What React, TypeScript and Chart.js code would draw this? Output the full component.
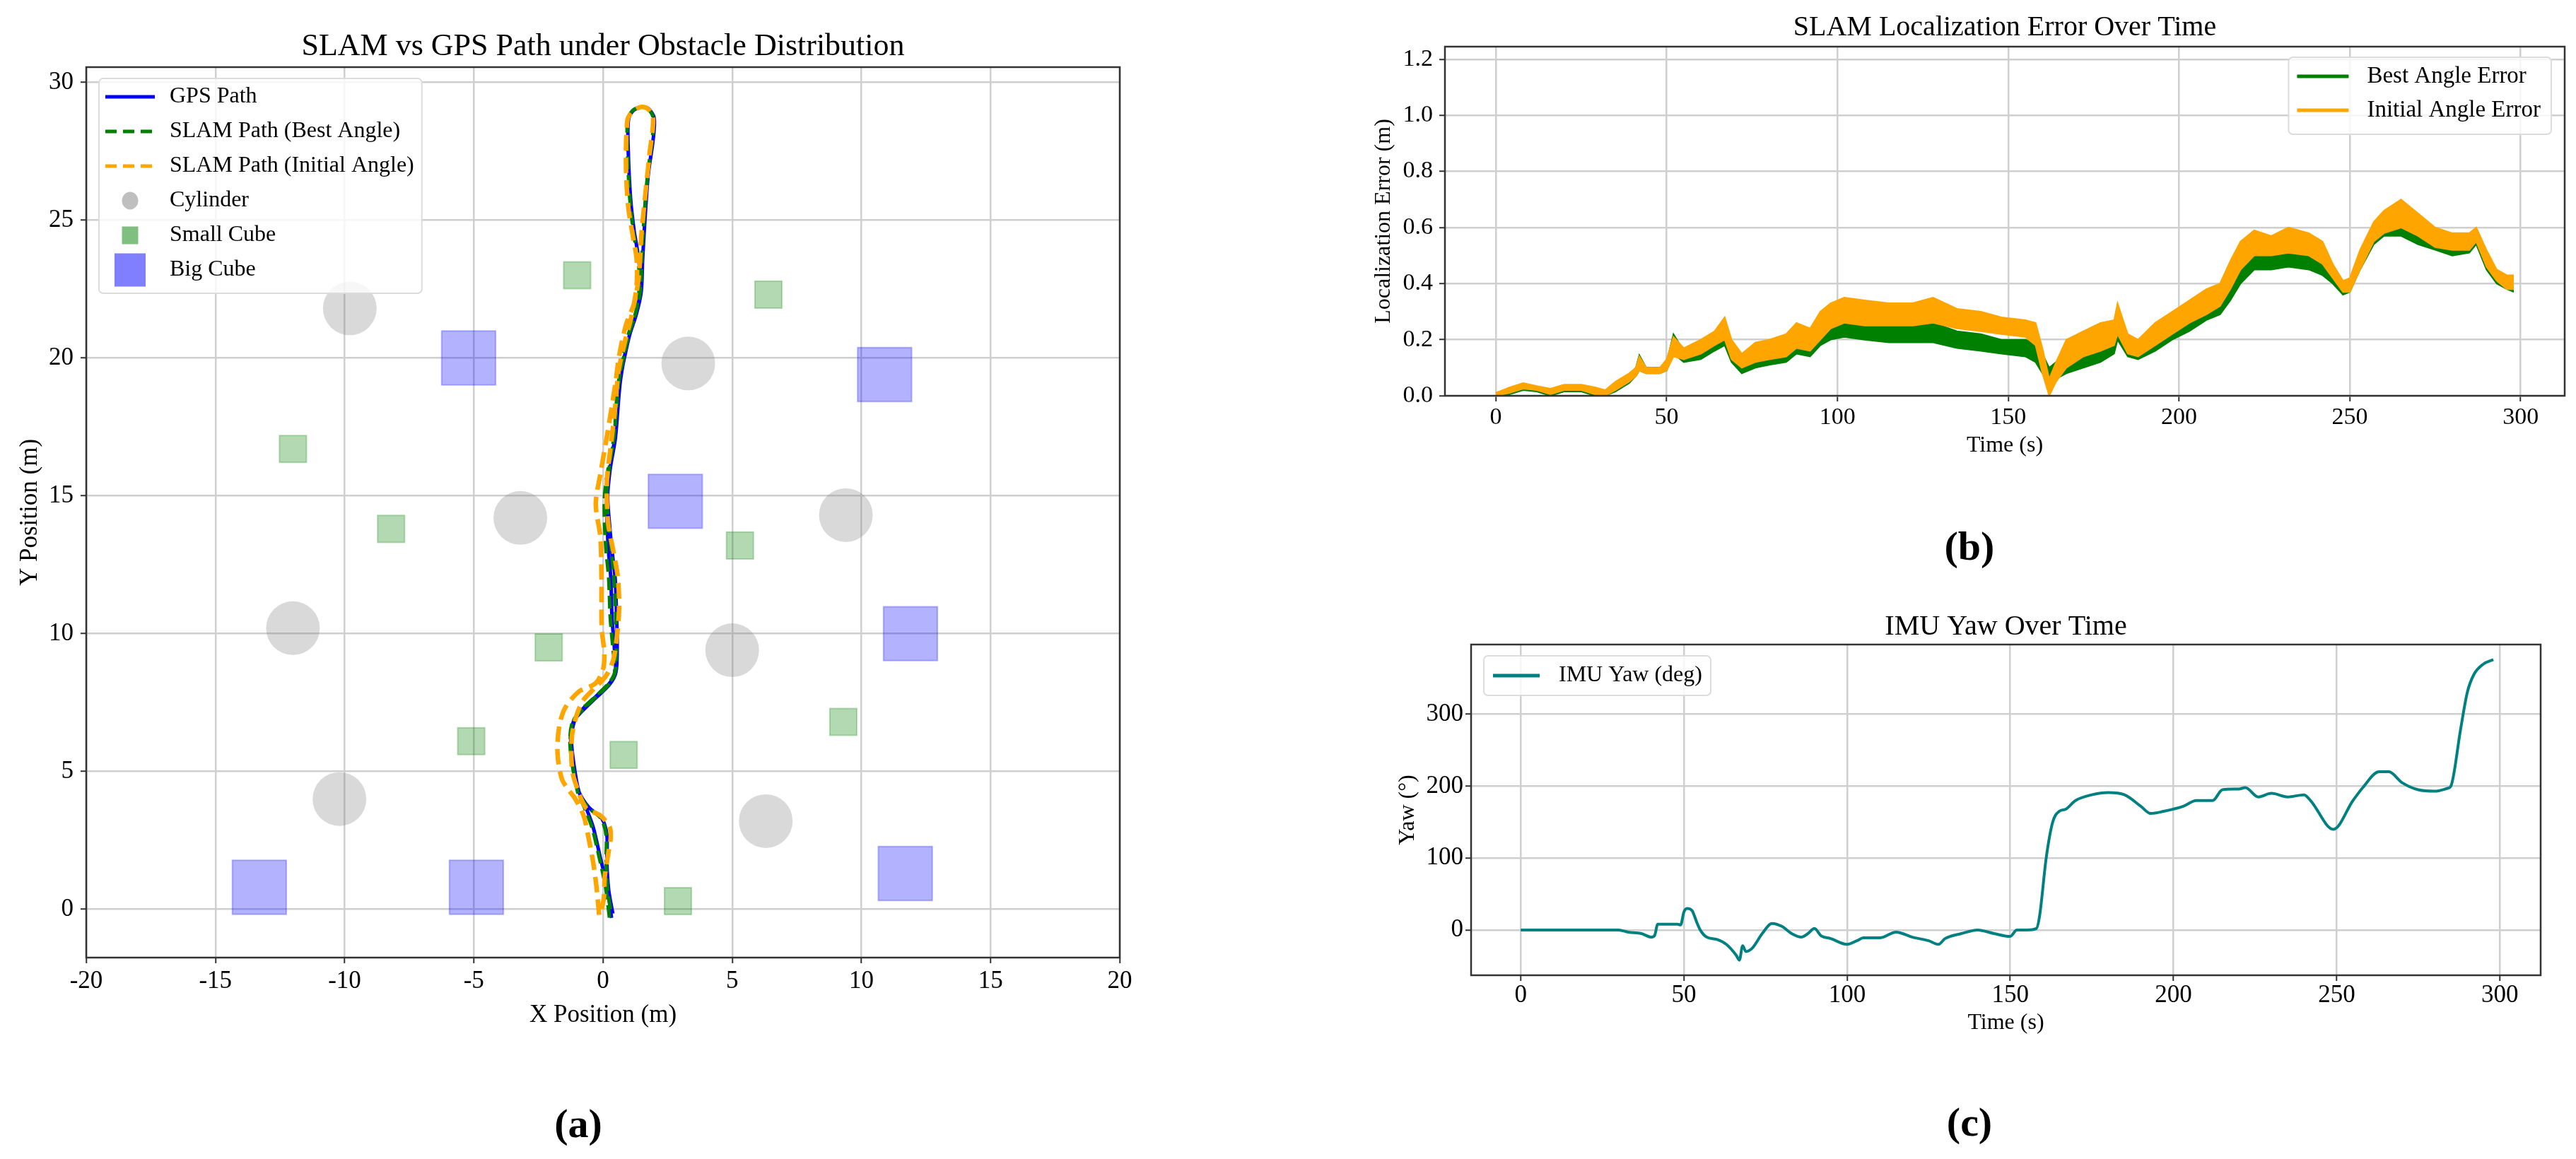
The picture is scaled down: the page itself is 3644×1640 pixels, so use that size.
import React, { useEffect, useRef } from 'react';
import Chart from 'chart.js/auto';

const FONT = "'Liberation Serif', 'Times New Roman', Times, serif";
const BLUE = '#0000ff';
const GREEN = '#008000';
const ORANGE = '#ffa500';
const TEAL = '#008080';
const GRID = '#cfcfcf';
const SPINE = '#333333';

// (a) paths in metres (out and back)
const GPS_X = [0.33, 0.16, -0.11, -0.38, -0.65, -0.93, -1.11, -1.22, -1.11, -0.84, -0.29, 0.25, 0.48, 0.44, 0.35, 0.3, 0.21, 0.16, 0.15, 0.3, 0.48, 0.66, 0.85, 1.03, 1.3, 1.48, 1.53, 1.62, 1.75, 1.94, 1.98, 1.75, 1.48, 1.15, 0.98, 0.98, 1.07, 1.21, 1.35, 1.45, 1.32, 1.05, 0.85, 0.62, 0.45, 0.28, 0.18, 0.25, 0.35, 0.47, 0.53, 0.55, 0.5, 0.25, -0.3, -0.85, -1.15, -1.25, -1.15, -0.95, -0.55, -0.05, 0.15, 0.15, 0.22, 0.38];
const GPS_Y = [-0.31, 0.82, 1.9, 2.98, 3.67, 4.26, 5.15, 6.13, 6.82, 7.21, 7.71, 8.2, 8.59, 9.48, 10.56, 12.04, 13.02, 14.0, 15.0, 16.11, 17.1, 19.07, 20.15, 20.84, 21.62, 22.41, 23.5, 24.97, 26.64, 27.92, 28.71, 29.05, 29.1, 28.95, 28.6, 27.43, 25.76, 24.58, 23.79, 22.8, 21.7, 20.9, 20.1, 19.0, 17.1, 16.0, 15.0, 14.0, 13.0, 12.0, 10.5, 9.5, 8.6, 8.15, 7.65, 7.15, 6.8, 6.1, 5.2, 4.3, 3.7, 3.3, 2.7, 1.7, 0.7, -0.15];
const BEST_X = [0.25, 0.1, -0.15, -0.42, -0.7, -0.98, -1.16, -1.27, -1.16, -0.88, -0.32, 0.22, 0.45, 0.38, 0.28, 0.22, 0.12, 0.06, 0.06, 0.22, 0.42, 0.6, 0.8, 0.98, 1.25, 1.44, 1.5, 1.58, 1.72, 1.9, 1.95, 1.72, 1.45, 1.12, 0.95, 0.95, 1.04, 1.18, 1.32, 1.42, 1.28, 1.02, 0.82, 0.58, 0.42, 0.24, 0.14, 0.22, 0.32, 0.42, 0.5, 0.52, 0.47, 0.22, -0.33, -0.88, -1.18, -1.28, -1.18, -0.98, -0.58, -0.08, 0.12, 0.12, 0.18, 0.32];
const BEST_Y = [-0.3, 0.8, 1.9, 2.95, 3.65, 4.25, 5.15, 6.1, 6.8, 7.2, 7.7, 8.2, 8.6, 9.5, 10.6, 12.0, 13.0, 14.0, 15.0, 16.1, 17.1, 19.05, 20.15, 20.85, 21.6, 22.4, 23.5, 24.95, 26.6, 27.9, 28.7, 29.05, 29.1, 28.95, 28.6, 27.4, 25.75, 24.55, 23.75, 22.8, 21.7, 20.9, 20.1, 19.0, 17.1, 16.0, 15.0, 14.0, 13.0, 12.0, 10.5, 9.5, 8.6, 8.15, 7.65, 7.15, 6.8, 6.1, 5.2, 4.3, 3.7, 3.3, 2.7, 1.7, 0.7, -0.15];
const INIT_X = [-0.15, -0.25, -0.38, -0.56, -0.75, -1.1, -1.35, -1.6, -1.76, -1.7, -1.47, -0.93, -0.29, 0.0, 0.05, -0.05, -0.06, -0.1, -0.28, -0.1, 0.16, 0.48, 0.62, 0.89, 1.21, 1.39, 1.48, 1.62, 1.8, 1.94, 1.72, 1.44, 1.1, 0.94, 0.89, 0.98, 1.16, 1.3, 1.3, 1.1, 0.85, 0.6, 0.45, 0.3, 0.15, 0.2, 0.4, 0.58, 0.62, 0.5, 0.38, 0.1, -0.35, -0.75, -1.0, -1.2, -1.2, -1.0, -0.65, -0.1, 0.25, 0.3, 0.2, 0.07, 0.03, -0.1];
const INIT_Y = [-0.2, 0.8, 1.7, 2.6, 3.4, 4.05, 4.35, 4.75, 5.65, 6.6, 7.3, 7.9, 8.2, 8.7, 9.3, 10.2, 12.0, 13.5, 14.7, 15.8, 17.2, 19.07, 20.05, 21.2, 22.0, 23.0, 24.4, 25.76, 27.4, 28.7, 29.05, 29.1, 28.9, 28.6, 26.9, 25.46, 24.4, 23.6, 22.6, 21.5, 20.6, 19.5, 18.0, 16.8, 15.5, 14.0, 13.0, 12.0, 10.8, 9.6, 9.0, 8.45, 8.0, 7.6, 7.1, 6.3, 5.1, 4.4, 3.67, 3.4, 3.0, 2.6, 2.0, 1.2, 0.4, -0.2];

// obstacle centres
const CYL_X = [-9.8, 3.3, -3.2, 9.4, -12.0, 5.0, -10.2, 6.3];
const CYL_Y = [21.8, 19.8, 14.2, 14.3, 10.2, 9.4, 4.0, 3.2];
const SMALL_X = [-1.0, 6.4, -12.0, -8.2, 5.3, -2.1, 9.3, -5.1, 0.8, 2.9];
const SMALL_Y = [23.0, 22.3, 16.7, 13.8, 13.2, 9.5, 6.8, 6.1, 5.6, 0.3];
const BIG_X = [-5.2, 10.9, 2.8, 11.9, -13.3, -4.9, 11.7];
const BIG_Y = [20.0, 19.4, 14.8, 10.0, 0.8, 0.8, 1.3];

const POS_X_TICKS = [-20, -15, -10, -5, 0, 5, 10, 15, 20];
const POS_Y_TICKS = [0, 5, 10, 15, 20, 25, 30];

// (b) localisation error, upper / lower edge of each noisy band
const ERR_T = [0, 4, 8, 12, 16, 20, 25, 29, 32, 35, 39, 41, 42, 44, 48, 50, 52, 55, 60, 64, 67, 69, 72, 76, 80, 85, 88, 92, 95, 98, 102, 108, 115, 122, 128, 135, 142, 148, 155, 158, 160, 162, 164, 167, 172, 177, 181, 182, 185, 188, 193, 198, 203, 208, 212, 215, 218, 222, 227, 232, 238, 242, 245, 248, 250, 253, 257, 260, 265, 270, 275, 280, 285, 287, 290, 293, 296, 298];
const INIT_HI = [0.01, 0.03, 0.045, 0.035, 0.025, 0.04, 0.04, 0.03, 0.02, 0.05, 0.08, 0.1, 0.14, 0.1, 0.1, 0.13, 0.21, 0.17, 0.2, 0.23, 0.28, 0.2, 0.15, 0.19, 0.2, 0.22, 0.26, 0.24, 0.3, 0.33, 0.35, 0.34, 0.33, 0.33, 0.35, 0.31, 0.3, 0.28, 0.27, 0.26, 0.17, 0.06, 0.12, 0.2, 0.23, 0.26, 0.27, 0.33, 0.22, 0.2, 0.26, 0.3, 0.34, 0.38, 0.4, 0.48, 0.55, 0.59, 0.57, 0.6, 0.58, 0.55, 0.47, 0.41, 0.42, 0.52, 0.62, 0.66, 0.7, 0.65, 0.6, 0.58, 0.58, 0.6, 0.52, 0.45, 0.43, 0.43];
const INIT_LO = [0.0, 0.01, 0.025, 0.02, 0.005, 0.02, 0.02, 0.005, 0.0, 0.02, 0.05, 0.07, 0.09, 0.08, 0.08, 0.09, 0.14, 0.13, 0.15, 0.18, 0.2, 0.13, 0.1, 0.12, 0.13, 0.14, 0.17, 0.16, 0.2, 0.24, 0.26, 0.25, 0.25, 0.25, 0.26, 0.24, 0.23, 0.22, 0.21, 0.18, 0.08, 0.0, 0.05, 0.1, 0.14, 0.16, 0.18, 0.22, 0.15, 0.14, 0.18, 0.22, 0.26, 0.29, 0.32, 0.38, 0.45, 0.5, 0.5, 0.51, 0.5, 0.47, 0.42, 0.37, 0.37, 0.45, 0.55, 0.58, 0.6, 0.57, 0.53, 0.52, 0.52, 0.55, 0.46, 0.41, 0.38, 0.38];
const BEST_HI = [0.01, 0.025, 0.04, 0.03, 0.02, 0.035, 0.035, 0.025, 0.015, 0.045, 0.075, 0.1, 0.145, 0.1, 0.1, 0.12, 0.22, 0.16, 0.18, 0.21, 0.25, 0.17, 0.12, 0.15, 0.17, 0.2, 0.24, 0.21, 0.25, 0.27, 0.28, 0.26, 0.25, 0.26, 0.26, 0.23, 0.22, 0.2, 0.2, 0.19, 0.15, 0.1, 0.12, 0.15, 0.17, 0.2, 0.24, 0.3, 0.2, 0.19, 0.24, 0.27, 0.31, 0.34, 0.36, 0.43, 0.48, 0.52, 0.5, 0.51, 0.5, 0.48, 0.44, 0.39, 0.41, 0.5, 0.6, 0.63, 0.62, 0.58, 0.56, 0.53, 0.56, 0.58, 0.5, 0.44, 0.42, 0.41];
const BEST_LO = [0.0, 0.005, 0.02, 0.015, 0.0, 0.015, 0.015, 0.0, 0.0, 0.015, 0.045, 0.07, 0.09, 0.08, 0.08, 0.09, 0.15, 0.12, 0.13, 0.16, 0.18, 0.12, 0.08, 0.1, 0.11, 0.12, 0.15, 0.14, 0.18, 0.2, 0.21, 0.2, 0.19, 0.19, 0.19, 0.17, 0.16, 0.15, 0.14, 0.12, 0.08, 0.04, 0.06, 0.08, 0.1, 0.12, 0.15, 0.2, 0.14, 0.13, 0.16, 0.2, 0.23, 0.27, 0.29, 0.34, 0.4, 0.45, 0.45, 0.46, 0.45, 0.43, 0.4, 0.36, 0.37, 0.45, 0.54, 0.57, 0.57, 0.54, 0.52, 0.5, 0.51, 0.54, 0.45, 0.4, 0.38, 0.37];

// (c) IMU yaw in degrees
const YAW_T = [0, 30, 33, 37, 40, 41, 42, 48, 49, 50, 51, 52.5, 54, 55, 57, 60, 63, 66, 67, 68, 69, 71, 74, 77, 80, 83, 86, 88, 90, 92, 95, 100, 103, 105, 110, 115, 120, 125, 128, 130, 135, 140, 145, 150, 152, 155, 158, 159, 161, 163, 165, 167, 170, 175, 180, 185, 190, 193, 197, 203, 207, 212, 215, 220, 222, 226, 230, 235, 240, 242, 249, 255, 258, 263, 266, 270, 275, 280, 284, 285, 288, 290, 292, 295, 298];
const YAW = [0, 0, -3, -5, -10, -8, 8, 8, 7, 25, 30, 27, 10, 0, -10, -13, -20, -35, -42, -22, -30, -25, -5, 9, 5, -5, -10, -5, 2, -8, -12, -20, -15, -11, -11, -3, -10, -15, -20, -12, -5, 0, -5, -9, 0, 0, 2, 20, 100, 150, 165, 168, 180, 188, 191, 188, 172, 162, 165, 172, 180, 180, 195, 196, 198, 185, 190, 185, 188, 180, 140, 180, 198, 220, 220, 205, 195, 193, 197, 200, 280, 330, 355, 370, 376];

const TIME_TICKS = [0, 50, 100, 150, 200, 250, 300];
const ERR_TICKS = [0, 0.2, 0.4, 0.6, 0.8, 1.0, 1.2];
const YAW_TICKS = [0, 100, 200, 300];

const pts = (xs: number[], ys: number[]) => xs.map((x, i) => ({ x, y: ys[i] }));

type LegendItem = {
  label: string;
  kind: 'line' | 'ellipse' | 'rect';
  color: string;
  lw?: number;
  dash?: number[];
  w?: number;
  h?: number;
};

type LegendCfg = {
  items: LegendItem[];
  side: 'left' | 'right';
  dx: number;
  dy: number;
  size: number;
  pad: number;
  handle: number;
  gap: number;
  padRight: number;
  first: number;
  row: number;
  last: number;
};

// matplotlib-like legend box drawn inside the plot area
const boxLegend = (cfg: LegendCfg) => ({
  id: 'boxLegend',
  afterDraw(chart: any) {
    const { ctx, chartArea } = chart;
    ctx.save();
    ctx.font = `${cfg.size}px ${FONT}`;
    const textW = Math.max(...cfg.items.map((it) => ctx.measureText(it.label).width));
    const w = cfg.pad + cfg.handle + cfg.gap + textW + cfg.padRight;
    const h = cfg.first + cfg.row * (cfg.items.length - 1) + cfg.last;
    const x0 = cfg.side === 'left' ? chartArea.left + cfg.dx : chartArea.right - cfg.dx - w;
    const y0 = chartArea.top + cfg.dy;
    ctx.beginPath();
    ctx.roundRect(x0, y0, w, h, 6);
    ctx.fillStyle = 'rgba(255,255,255,0.8)';
    ctx.fill();
    ctx.lineWidth = 2;
    ctx.strokeStyle = '#dcdcdc';
    ctx.stroke();
    cfg.items.forEach((it, i) => {
      const cy = y0 + cfg.first + i * cfg.row;
      const hx = x0 + cfg.pad;
      const cx = hx + cfg.handle / 2;
      if (it.kind === 'line') {
        ctx.beginPath();
        ctx.setLineDash(it.dash || []);
        ctx.strokeStyle = it.color;
        ctx.lineWidth = it.lw || 4;
        ctx.moveTo(hx, cy);
        ctx.lineTo(hx + cfg.handle, cy);
        ctx.stroke();
        ctx.setLineDash([]);
      } else if (it.kind === 'ellipse') {
        ctx.beginPath();
        ctx.ellipse(cx, cy, (it.w || 20) / 2, (it.h || 20) / 2, 0, 0, Math.PI * 2);
        ctx.fillStyle = it.color;
        ctx.fill();
      } else {
        const rw = it.w || 20;
        const rh = it.h || 20;
        ctx.fillStyle = it.color;
        ctx.fillRect(cx - rw / 2, cy - rh / 2, rw, rh);
      }
      ctx.fillStyle = '#000';
      ctx.textBaseline = 'middle';
      ctx.textAlign = 'left';
      ctx.fillText(it.label, hx + cfg.handle + cfg.gap, cy);
    });
    ctx.restore();
  },
});

// four spines round the plot area
const frame = {
  id: 'frame',
  afterDatasetsDraw(chart: any) {
    const { ctx, chartArea: a } = chart;
    ctx.save();
    ctx.strokeStyle = SPINE;
    ctx.lineWidth = 2.5;
    ctx.strokeRect(a.left, a.top, a.right - a.left, a.bottom - a.top);
    ctx.restore();
  },
};

type AxisOpts = {
  horizontal: boolean;
  min: number;
  max: number;
  ticks: number[];
  title: string;
  tickSize: number;
  tickPad: number;
  titleSize: number;
  titlePad: number;
  size: number;
  fmt?: (v: number) => string;
};

const axis = (o: AxisOpts) => ({
  type: 'linear',
  position: o.horizontal ? 'bottom' : 'left',
  min: o.min,
  max: o.max,
  afterBuildTicks: (s: any) => {
    s.ticks = o.ticks.map((value) => ({ value }));
  },
  afterFit: (s: any) => {
    if (o.horizontal) s.height = o.size;
    else s.width = o.size;
  },
  border: { display: false },
  grid: { color: GRID, lineWidth: 2.5, tickLength: 8, tickColor: SPINE, tickWidth: 2 },
  ticks: {
    color: '#000',
    font: { family: FONT, size: o.tickSize },
    padding: o.tickPad,
    maxRotation: 0,
    autoSkip: false,
    ...(o.fmt ? { callback: (v: any) => o.fmt!(Number(v)) } : {}),
  },
  title: {
    display: true,
    text: o.title,
    color: '#000',
    font: { family: FONT, size: o.titleSize },
    padding: o.horizontal ? { top: 0, bottom: o.titlePad } : { top: o.titlePad, bottom: 0 },
  },
});

const plotTitle = (text: string, size: number, top: number, bottom: number) => ({
  display: true,
  text,
  color: '#000',
  fullSize: false,
  font: { family: FONT, size, weight: 'normal' as const },
  padding: { top, bottom },
});

const base = {
  responsive: false,
  animation: false as const,
  devicePixelRatio: 1,
  events: [] as any[],
};

function makePathChart(): any {
  return {
    type: 'scatter',
    data: {
      datasets: [
        { label: 'SLAM Path (Initial Angle)', data: pts(INIT_X, INIT_Y), showLine: true, borderColor: ORANGE, borderWidth: 6.5, borderDash: [22, 10], pointRadius: 0, tension: 0.3, order: 1 },
        { label: 'SLAM Path (Best Angle)', data: pts(BEST_X, BEST_Y), showLine: true, borderColor: GREEN, borderWidth: 5, borderDash: [18, 8], pointRadius: 0, tension: 0.3, order: 2 },
        { label: 'GPS Path', data: pts(GPS_X, GPS_Y), showLine: true, borderColor: BLUE, borderWidth: 5, pointRadius: 0, tension: 0.3, order: 3 },
        { label: 'Cylinder', data: pts(CYL_X, CYL_Y), pointStyle: 'circle', pointRadius: 38, backgroundColor: 'rgba(128,128,128,0.3)', borderWidth: 0, order: 4 },
        { label: 'Small Cube', data: pts(SMALL_X, SMALL_Y), pointStyle: 'rect', pointRadius: 27, backgroundColor: 'rgba(0,128,0,0.3)', borderColor: 'rgba(0,128,0,0.25)', borderWidth: 2, order: 5 },
        { label: 'Big Cube', data: pts(BIG_X, BIG_Y), pointStyle: 'rect', pointRadius: 54, backgroundColor: 'rgba(0,0,255,0.3)', borderColor: 'rgba(0,0,255,0.25)', borderWidth: 2, order: 6 },
      ],
    },
    options: {
      ...base,
      layout: { padding: { left: 0, right: 54, top: 0, bottom: 22 } },
      scales: {
        x: axis({ horizontal: true, min: -20, max: 20, ticks: POS_X_TICKS, title: 'X Position (m)', tickSize: 35, tickPad: 5, titleSize: 35, titlePad: 0, size: 103 }),
        y: axis({ horizontal: false, min: -1.75, max: 30.55, ticks: POS_Y_TICKS, title: 'Y Position (m)', tickSize: 35, tickPad: 10, titleSize: 35, titlePad: 22, size: 122 }),
      },
      plugins: {
        legend: { display: false },
        tooltip: { enabled: false },
        title: plotTitle('SLAM vs GPS Path under Obstacle Distribution', 44, 40, 2.2),
      },
    },
    plugins: [
      frame,
      boxLegend({
        side: 'left', dx: 18, dy: 16, size: 32, pad: 9, handle: 70, gap: 21, padRight: 11, first: 26, row: 49, last: 33,
        items: [
          { label: 'GPS Path', kind: 'line', color: BLUE, lw: 5 },
          { label: 'SLAM Path (Best Angle)', kind: 'line', color: GREEN, lw: 5, dash: [16, 9] },
          { label: 'SLAM Path (Initial Angle)', kind: 'line', color: ORANGE, lw: 5, dash: [16, 9] },
          { label: 'Cylinder', kind: 'ellipse', color: 'rgba(128,128,128,0.5)', w: 23, h: 25 },
          { label: 'Small Cube', kind: 'rect', color: 'rgba(0,128,0,0.5)', w: 23, h: 25 },
          { label: 'Big Cube', kind: 'rect', color: 'rgba(0,0,255,0.5)', w: 44, h: 47 },
        ],
      }),
    ],
  };
}

function makeErrorChart(): any {
  const edge = { pointRadius: 0, borderWidth: 2, tension: 0 };
  return {
    type: 'line',
    data: {
      datasets: [
        { label: 'Best Angle Error', data: pts(ERR_T, BEST_HI), borderColor: GREEN, fill: false, order: 2, ...edge },
        { label: 'Best Angle Error (low)', data: pts(ERR_T, BEST_LO), borderColor: GREEN, backgroundColor: GREEN, fill: '-1', order: 2, ...edge },
        { label: 'Initial Angle Error', data: pts(ERR_T, INIT_HI), borderColor: ORANGE, fill: false, order: 1, ...edge },
        { label: 'Initial Angle Error (low)', data: pts(ERR_T, INIT_LO), borderColor: ORANGE, backgroundColor: ORANGE, fill: '-1', order: 1, ...edge },
      ],
    },
    options: {
      ...base,
      layout: { padding: { left: 0, right: 16, top: 0, bottom: 30 } },
      scales: {
        x: axis({ horizontal: true, min: -14.9, max: 312.9, ticks: TIME_TICKS, title: 'Time (s)', tickSize: 34, tickPad: 3, titleSize: 32, titlePad: 0, size: 90 }),
        y: axis({ horizontal: false, min: 0, max: 1.245, ticks: ERR_TICKS, title: 'Localization Error (m)', tickSize: 34, tickPad: 9, titleSize: 32, titlePad: 38, size: 144, fmt: (v) => v.toFixed(1) }),
      },
      plugins: {
        legend: { display: false },
        tooltip: { enabled: false },
        title: plotTitle('SLAM Localization Error Over Time', 40, 15, 3),
      },
    },
    plugins: [
      frame,
      boxLegend({
        side: 'right', dx: 19, dy: 15, size: 33, pad: 12, handle: 73, gap: 26, padRight: 15, first: 27, row: 48, last: 34,
        items: [
          { label: 'Best Angle Error', kind: 'line', color: GREEN, lw: 5 },
          { label: 'Initial Angle Error', kind: 'line', color: ORANGE, lw: 5 },
        ],
      }),
    ],
  };
}

function makeYawChart(): any {
  return {
    type: 'line',
    data: {
      datasets: [
        { label: 'IMU Yaw (deg)', data: pts(YAW_T, YAW), borderColor: TEAL, borderWidth: 4, pointRadius: 0, cubicInterpolationMode: 'monotone', fill: false },
      ],
    },
    options: {
      ...base,
      layout: { padding: { left: 0, right: 50, top: 0, bottom: 13 } },
      scales: {
        x: axis({ horizontal: true, min: -15.2, max: 312.5, ticks: TIME_TICKS, title: 'Time (s)', tickSize: 35, tickPad: 0, titleSize: 32, titlePad: 0, size: 87 }),
        y: axis({ horizontal: false, min: -63, max: 397, ticks: YAW_TICKS, title: 'Yaw (°)', tickSize: 35, tickPad: 3, titleSize: 32, titlePad: 72, size: 181 }),
      },
      plugins: {
        legend: { display: false },
        tooltip: { enabled: false },
        title: plotTitle('IMU Yaw Over Time', 40, 23, 1),
      },
    },
    plugins: [
      frame,
      boxLegend({
        side: 'left', dx: 18, dy: 16, size: 32, pad: 13, handle: 66, gap: 27, padRight: 12, first: 28, row: 0, last: 28,
        items: [{ label: 'IMU Yaw (deg)', kind: 'line', color: TEAL, lw: 5 }],
      }),
    ],
  };
}

type CanvasProps = { left: number; top: number; width: number; height: number; make: () => any };

const ChartCanvas: React.FC<CanvasProps> = ({ left, top, width, height, make }) => {
  const canvasRef = useRef<HTMLCanvasElement>(null);

  useEffect(() => {
    if (!canvasRef.current) return;
    const chart = new Chart(canvasRef.current, make());
    return () => {
      chart.destroy();
    };
  }, [make]);

  return (
    <canvas
      ref={canvasRef}
      width={width}
      height={height}
      style={{ position: 'absolute', left, top, width, height }}
    />
  );
};

const PanelTag: React.FC<{ text: string; cx: number; cy: number }> = ({ text, cx, cy }) => (
  <div
    style={{
      position: 'absolute',
      left: cx - 100,
      top: cy - 35,
      width: 200,
      height: 70,
      lineHeight: '70px',
      textAlign: 'center',
      fontFamily: FONT,
      fontWeight: 'bold',
      fontSize: 58,
      color: '#000',
    }}
  >
    {text}
  </div>
);

export default function App() {
  return (
    <div style={{ position: 'absolute', left: 0, top: 0, width: 3644, height: 1640, background: '#fff', overflow: 'hidden' }}>
      <ChartCanvas left={0} top={0} width={1640} height={1480} make={makePathChart} />
      <ChartCanvas left={1900} top={0} width={1744} height={680} make={makeErrorChart} />
      <ChartCanvas left={1900} top={840} width={1744} height={640} make={makeYawChart} />
      <PanelTag text="(a)" cx={818} cy={1590} />
      <PanelTag text="(b)" cx={2786} cy={773} />
      <PanelTag text="(c)" cx={2786} cy={1588} />
    </div>
  );
}
